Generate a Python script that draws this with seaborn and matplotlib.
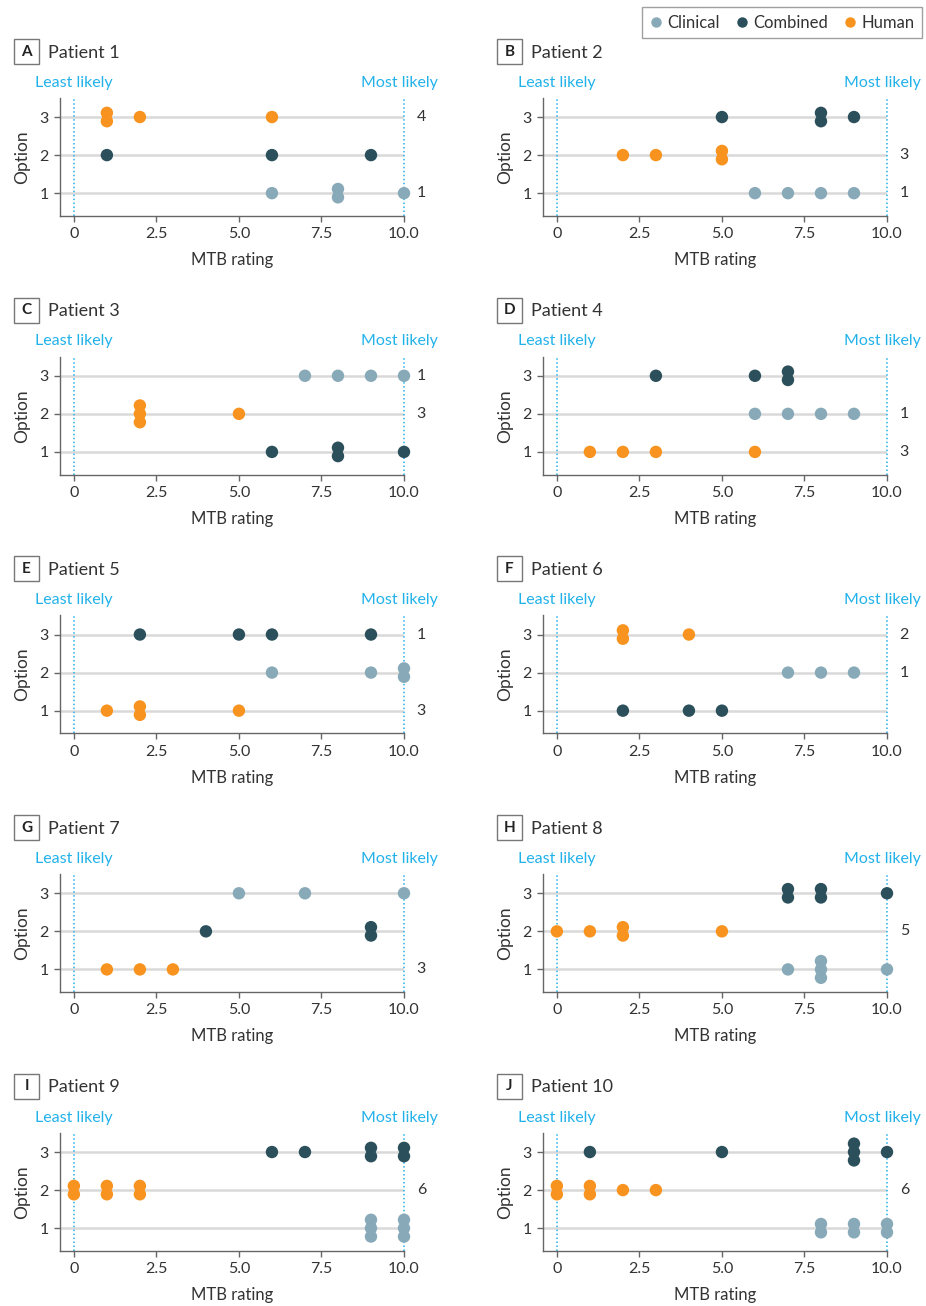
import numpy as np
import pandas as pd
import matplotlib
matplotlib.use("Agg")
import matplotlib.pyplot as plt
from matplotlib.lines import Line2D
from matplotlib.patches import Rectangle
import seaborn as sns

# ---- data -------------------------------------------------------------
patients = ["Patient 1", "Patient 2", "Patient 3", "Patient 4", "Patient 5",
            "Patient 6", "Patient 7", "Patient 8", "Patient 9", "Patient 10"]
panel_letters = ["A", "B", "C", "D", "E", "F", "G", "H", "I", "J"]
sources = ["Clinical", "Combined", "Human"]

# option row used by each source, one entry per patient
clinical_option = [1, 1, 3, 2, 2, 2, 3, 1, 1, 1]
combined_option = [2, 3, 1, 3, 3, 1, 2, 3, 3, 3]
human_option = [3, 2, 2, 1, 1, 3, 1, 2, 2, 2]

# MTB ratings given for that option, one list per patient
clinical_ratings = [[6, 8, 8, 10], [6, 7, 8, 9], [7, 8, 9, 10], [6, 7, 8, 9],
                    [6, 9, 10, 10], [7, 8, 9], [5, 7, 10], [7, 8, 8, 8, 10],
                    [9, 9, 9, 10, 10, 10], [8, 8, 9, 9, 10, 10]]
combined_ratings = [[1, 6, 9], [5, 8, 8, 9], [6, 8, 8, 10], [3, 6, 7, 7],
                    [2, 5, 6, 9], [2, 4, 5], [4, 9, 9], [7, 7, 8, 8, 10],
                    [6, 7, 9, 9, 10, 10], [1, 5, 9, 9, 9, 10]]
human_ratings = [[1, 1, 2, 6], [2, 3, 5, 5], [2, 2, 2, 5], [1, 2, 3, 6],
                 [1, 2, 2, 5], [2, 2, 4], [1, 2, 3], [0, 1, 2, 2, 5],
                 [0, 0, 1, 1, 2, 2], [0, 0, 1, 1, 2, 3]]

# numbers printed at the right of an option row: (option, text)
side_labels = [[(3, "4"), (1, "1")], [(2, "3"), (1, "1")], [(3, "1"), (2, "3")],
               [(2, "1"), (1, "3")], [(3, "1"), (1, "3")], [(3, "2"), (2, "1")],
               [(1, "3")], [(2, "5")], [(2, "6")], [(2, "6")]]

x_ticks = [0, 2.5, 5.0, 7.5, 10.0]
x_tick_labels = ["0", "2.5", "5.0", "7.5", "10.0"]
option_ticks = [1, 2, 3]
scale_ends = [0, 10]
scale_labels = ["Least likely", "Most likely"]

# ---- style ------------------------------------------------------------
palette = {"Clinical": "#88a9b8", "Combined": "#2b4f5b", "Human": "#f7931e"}
BLUE = "#22b2ea"
GRID = "#d9d9d9"
SPINE = "#666666"
TEXT = "#333333"

sns.set_theme(style="white")
plt.rcParams["font.family"] = ["Lato", "DejaVu Sans"]

W, H = 926, 1306
fig = plt.figure(figsize=(W / 100, H / 100), dpi=100)

STACK = 0.22          # vertical spacing of tied ratings, in option units
col_left = [60, 543]  # px
ax_w, ax_h = 344, 118
row_top0, row_step = 98, 258.75


def panel_frame(i):
    rows = []
    for src, opts, vals in (("Clinical", clinical_option, clinical_ratings),
                            ("Combined", combined_option, combined_ratings),
                            ("Human", human_option, human_ratings)):
        for v in vals[i]:
            rows.append((src, opts[i], v))
    df = pd.DataFrame(rows, columns=["source", "option", "rating"])
    grp = df.groupby(["option", "rating"])
    rank = grp.cumcount()
    n = grp["rating"].transform("size")
    df["y"] = df["option"] + (rank - (n - 1) / 2) * STACK
    return df


for i in range(len(patients)):
    r, c = divmod(i, 2)
    top = row_top0 + r * row_step
    left = col_left[c]
    ax = fig.add_axes([left / W, 1 - (top + ax_h) / H, ax_w / W, ax_h / H])

    for o in option_ticks:
        ax.axhline(o, color=GRID, lw=1.8, zorder=0)
    for xe in scale_ends:
        ax.axvline(xe, color=BLUE, lw=1.1, ls=(0, (1, 1.6)), zorder=1, clip_on=False)

    df = panel_frame(i)
    sns.scatterplot(data=df, x="rating", y="y", hue="source", hue_order=sources,
                    palette=palette, s=80, linewidth=0, legend=False, ax=ax,
                    clip_on=False, zorder=3)

    ax.set_xlim(-0.42, 10)
    ax.set_ylim(0.4, 3.5)
    ax.set_xticks(x_ticks)
    ax.set_xticklabels(x_tick_labels)
    ax.set_yticks(option_ticks)
    ax.set_yticklabels([str(o) for o in option_ticks])
    for s in ("top", "right"):
        ax.spines[s].set_visible(False)
    for s in ("left", "bottom"):
        ax.spines[s].set_color(SPINE)
        ax.spines[s].set_linewidth(1.0)
    ax.tick_params(bottom=True, left=True, direction="out", length=4, width=1,
                   color=SPINE, labelsize=11.5, labelcolor=TEXT, pad=4)
    ax.set_xlabel("MTB rating", fontsize=12, color=TEXT, labelpad=8)
    ax.set_ylabel("Option", fontsize=12.5, color=TEXT, labelpad=7)

    for xe, lab, dx in zip(scale_ends, scale_labels, (0, -3)):
        ax.annotate(lab, xy=(xe, 1), xycoords=("data", "axes fraction"),
                    xytext=(dx, 11), textcoords="offset points",
                    ha="center", va="center", fontsize=11.5, color=BLUE)

    for o, lab in side_labels[i]:
        ax.annotate(lab, xy=(1, o), xycoords=("axes fraction", "data"),
                    xytext=(12.5, 0), textcoords="offset points",
                    ha="center", va="center", fontsize=11.5, color=TEXT)

    # panel tag and title
    bx, by, bs = left - 46, top - 59, 25
    fig.add_artist(Rectangle((bx / W, 1 - (by + bs) / H), bs / W, bs / H,
                             transform=fig.transFigure, fill=False,
                             ec="#777777", lw=1.0))
    fig.text((bx + bs / 2) / W, 1 - (by + bs / 2) / H, panel_letters[i],
             ha="center", va="center", fontsize=11, fontweight="bold", color="#222222")
    fig.text((bx + 34) / W, 1 - (by + bs / 2 + 1) / H, patients[i],
             ha="left", va="center", fontsize=13, color=TEXT)

handles = [Line2D([0], [0], marker="o", ls="", markersize=7.5, markeredgewidth=0,
                  color=palette[s]) for s in sources]
leg = fig.legend(handles, sources, loc="upper right",
                 bbox_to_anchor=(922 / W, 1 - 7 / H), ncol=3, frameon=True,
                 fancybox=False, edgecolor="#888888", fontsize=12,
                 handletextpad=0.3, columnspacing=0.9, handlelength=0.8,
                 borderpad=0.45, borderaxespad=0)
leg.get_frame().set_linewidth(1.0)
for t in leg.get_texts():
    t.set_color(TEXT)

fig.savefig("out.png", dpi=100)
